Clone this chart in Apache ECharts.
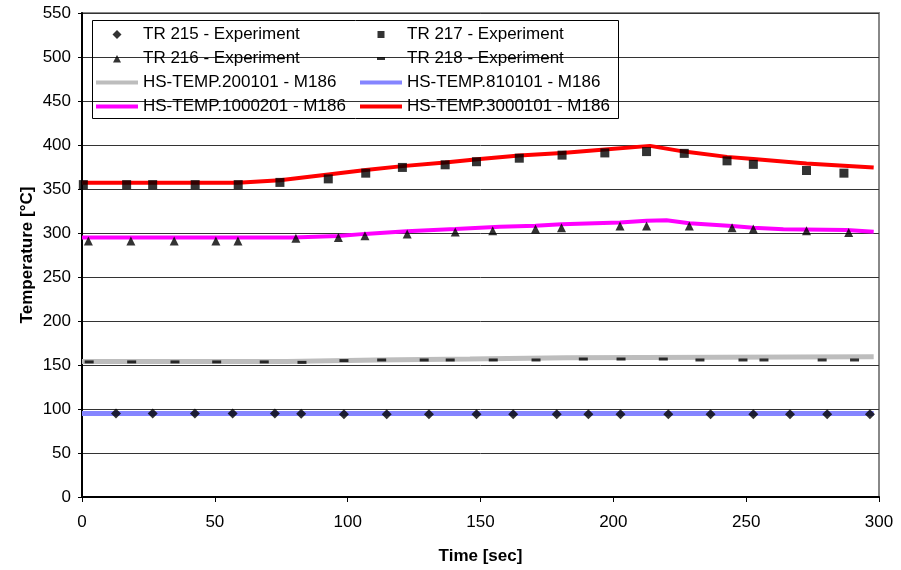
<!DOCTYPE html>
<html>
<head>
<meta charset="utf-8">
<title>Temperature chart</title>
<script src="https://cdn.jsdelivr.net/npm/echarts@6/dist/echarts.min.js"></script>
<style>
  html, body { margin: 0; padding: 0; background: #fff; }
  #tempChart { width: 901px; height: 570px; }
</style>
</head>
<body>
<div id="tempChart"></div>
<script>
// 坐标轴刻度
const xTicks = [0, 50, 100, 150, 200, 250, 300];
const yTicks = [0, 50, 100, 150, 200, 250, 300, 350, 400, 450, 500, 550];

// 实验数据 (散点)
const tr215Time = [12.8, 26.6, 42.5, 56.7, 72.6, 82.5, 98.6, 114.7, 130.6, 148.5, 162.3, 178.7, 190.6, 202.7, 220.7, 236.6, 252.7, 266.5, 280.5, 296.6];
const tr215Temp = [95, 95, 95, 95, 95, 94.5, 94, 94, 94, 94, 94, 94, 94, 94, 94, 94, 94, 94, 94, 94];

const tr216Time = [2.4, 18.4, 34.7, 50.4, 58.7, 80.5, 96.5, 106.5, 122.4, 140.5, 154.6, 170.7, 180.5, 202.5, 212.5, 228.6, 244.7, 252.7, 272.7, 288.6];
const tr216Temp = [291, 291, 291, 291, 291, 294, 295, 297, 299, 301, 302.5, 304.5, 306, 308, 308, 308, 306, 304.5, 302.5, 300.5];

const tr217Time = [0.5, 16.8, 26.6, 42.6, 58.8, 74.5, 92.7, 106.8, 120.6, 136.7, 148.5, 164.6, 180.7, 196.8, 212.5, 226.7, 242.8, 252.7, 272.7, 286.8];
const tr217Temp = [355, 355, 355, 355, 355, 357.5, 361.5, 368, 374.5, 377.5, 381, 385, 388.5, 391, 392.5, 390.5, 382, 378, 371, 368];

const tr218Time = [2.7, 18.7, 35, 50.7, 68.6, 82.8, 98.6, 112.8, 128.8, 138.6, 154.8, 170.9, 188.7, 202.9, 218.8, 232.6, 248.8, 256.7, 278.6, 290.8];
const tr218Temp = [153.5, 153.5, 153.5, 153.5, 153.5, 153, 155, 155.7, 155.7, 155.7, 155.7, 155.7, 156.8, 156.8, 156.8, 155.7, 155.7, 155.7, 155.7, 155.7];

// 计算结果 (曲线)
const hs200101Time = [0, 77, 77, 111, 111, 146, 146, 182, 182, 298];
const hs200101Temp = [154, 154, 155.7, 155.7, 156.8, 156.8, 158.3, 158.3, 159.4, 159.4];

const hs810101Time = [0, 298];
const hs810101Temp = [95, 95];

const hs1000201Time = [0, 79.4, 96.5, 106.5, 122.2, 140.5, 157.3, 170.7, 180.5, 202.5, 212.5, 220, 228.6, 244.7, 252.7, 264, 287.8, 298];
const hs1000201Temp = [295, 295, 296.5, 299, 302, 304.5, 307, 308.3, 310, 312, 314, 314.4, 311, 308, 306, 304.2, 303.4, 301.5];

const hs3000101Time = [0, 58.7, 74.5, 92.7, 106.8, 120.6, 136.7, 149.8, 164.6, 180.7, 196.8, 213.8, 226.7, 242.8, 252.7, 272.7, 286.8, 298];
const hs3000101Temp = [357, 357, 360, 366.5, 371.5, 376, 380, 384, 388, 391, 395, 399, 392.5, 386.5, 384, 379, 376.5, 374.5];

// 组合成 [x, y]
function pairs(xs, ys) {
  return xs.map((x, i) => [x, ys[i]]);
}

const FONT = "'Liberation Sans', Arial, sans-serif";

// 图例图标: 前两个 M 点把包围盒撑到 42x9, 图形居中不被拉伸
const ICON_BOX = 'path://M0,0M42,9';
const ICON_DIAMOND = ICON_BOX + 'M21,0L25.5,4.5L21,9L16.5,4.5Z';
const ICON_SQUARE = ICON_BOX + 'M17.5,1h7v7h-7Z';
const ICON_TRIANGLE = ICON_BOX + 'M21,1L25,8.5L17,8.5Z';
const ICON_DASH = ICON_BOX + 'M17,3h8v3h-8Z';
const ICON_LINE = ICON_BOX + 'M0,2.5h42v4h-42Z';

function lineSeries(name, xs, ys, color, width) {
  return {
    name: name,
    type: 'line',
    data: pairs(xs, ys),
    symbol: 'none',
    z: 2,
    lineStyle: { color: color, width: width },
    itemStyle: { color: color }
  };
}

function pointSeries(name, xs, ys, symbol, size) {
  return {
    name: name,
    type: 'scatter',
    data: pairs(xs, ys),
    symbol: symbol,
    symbolSize: size,
    z: 4,
    itemStyle: { color: '#000' }
  };
}

const chart = echarts.init(document.getElementById('tempChart'));

const legendCommon = {
  orient: 'vertical',
  top: 21,
  itemWidth: 42,
  itemHeight: 9,
  itemGap: 7,
  textStyle: { fontFamily: FONT, fontSize: 17, color: '#000', lineHeight: 17 },
  selectedMode: false
};

const option = {
  animation: false,
  backgroundColor: '#fff',
  grid: {
    left: 82,
    right: 22,
    top: 13,
    bottom: 73,
    show: true,
    borderColor: '#888',
    borderWidth: 2
  },
  legend: [
    Object.assign({}, legendCommon, {
      left: 91,
      data: [
        { name: 'TR 215 - Experiment', icon: ICON_DIAMOND },
        { name: 'TR 216 - Experiment', icon: ICON_TRIANGLE },
        { name: 'HS-TEMP.200101 - M186', icon: ICON_LINE },
        { name: 'HS-TEMP.1000201 - M186', icon: ICON_LINE }
      ]
    }),
    Object.assign({}, legendCommon, {
      left: 355,
      data: [
        { name: 'TR 217 - Experiment', icon: ICON_SQUARE },
        { name: 'TR 218 - Experiment', icon: ICON_DASH },
        { name: 'HS-TEMP.810101 - M186', icon: ICON_LINE },
        { name: 'HS-TEMP.3000101 - M186', icon: ICON_LINE }
      ]
    })
  ],
  graphic: [
    {
      type: 'rect',
      left: 92,
      top: 20,
      shape: { width: 526, height: 98 },
      style: { fill: 'rgba(0,0,0,0)', stroke: '#000', lineWidth: 1 },
      z: 10,
      silent: true
    }
  ],
  xAxis: {
    type: 'value',
    min: xTicks[0],
    max: xTicks[xTicks.length - 1],
    interval: 50,
    name: 'Time [sec]',
    nameLocation: 'middle',
    nameGap: 51,
    nameMoveOverlap: false,
    nameTextStyle: { fontFamily: FONT, fontSize: 17, fontWeight: 'bold', color: '#000' },
    axisLine: { show: true, lineStyle: { color: '#000', width: 2 } },
    axisTick: { show: true, length: 5, lineStyle: { color: '#000' } },
    axisLabel: { fontFamily: FONT, fontSize: 17, color: '#000', margin: 17 },
    splitLine: { show: false }
  },
  yAxis: {
    type: 'value',
    min: yTicks[0],
    max: yTicks[yTicks.length - 1],
    interval: 50,
    name: 'Temperature [°C]',
    nameLocation: 'middle',
    nameGap: 46,
    nameMoveOverlap: false,
    nameRotate: 90,
    nameTextStyle: { fontFamily: FONT, fontSize: 17, fontWeight: 'bold', color: '#000' },
    axisLine: { show: true, lineStyle: { color: '#000', width: 2 } },
    axisTick: { show: true, length: 4, lineStyle: { color: '#000' } },
    axisLabel: { fontFamily: FONT, fontSize: 17, color: '#000', margin: 11 },
    splitLine: { show: true, lineStyle: { color: '#333', width: 1 } }
  },
  series: [
    lineSeries('HS-TEMP.200101 - M186', hs200101Time, hs200101Temp, '#bdbdbd', 5),
    lineSeries('HS-TEMP.810101 - M186', hs810101Time, hs810101Temp, '#8585ff', 5),
    lineSeries('HS-TEMP.1000201 - M186', hs1000201Time, hs1000201Temp, '#ff00ff', 4),
    lineSeries('HS-TEMP.3000101 - M186', hs3000101Time, hs3000101Temp, '#ff0000', 4),
    pointSeries('TR 215 - Experiment', tr215Time, tr215Temp, 'diamond', 10),
    pointSeries('TR 217 - Experiment', tr217Time, tr217Temp, 'rect', 9),
    pointSeries('TR 216 - Experiment', tr216Time, tr216Temp, 'triangle', 9),
    pointSeries('TR 218 - Experiment', tr218Time, tr218Temp, 'rect', [9, 3])
  ]
};

chart.setOption(option);
</script>
</body>
</html>
